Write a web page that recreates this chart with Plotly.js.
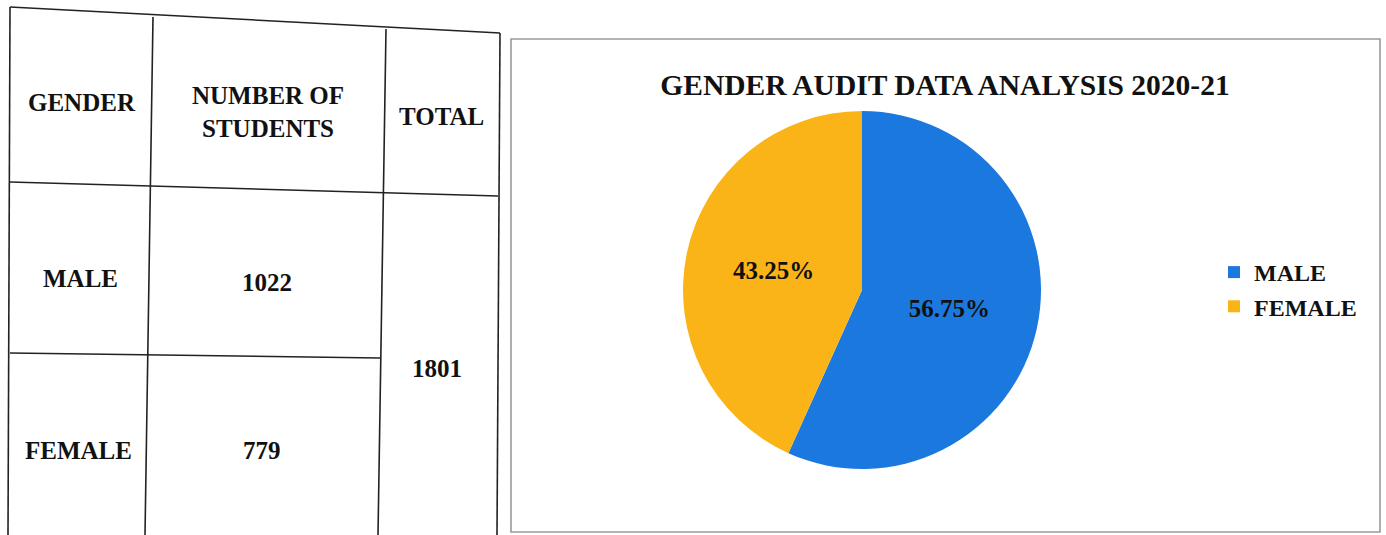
<!DOCTYPE html>
<html>
<head>
<meta charset="utf-8">
<script src="https://cdn.plot.ly/plotly-3.0.1.min.js"></script>
<style>html,body{margin:0;padding:0;background:#fff;}#chart{width:1386px;height:535px;}</style>
</head>
<body>
<div id="chart"></div>
<script>
// ---- data ----
const genders = ['MALE', 'FEMALE'];
const students = [1022, 779];
const headers = ['GENDER', 'NUMBER OF<br>STUDENTS', 'TOTAL'];
const chartTitle = 'GENDER AUDIT DATA ANALYSIS 2020-21';
const sliceColors = ['#1b78df', '#fbb417'];

const total = students.reduce((a, b) => a + b, 0);

// ---- layout helpers (pixel -> paper) ----
const W = 1386, H = 535;
const px = x => x / W;
const py = y => 1 - y / H;
const FONT = 'Liberation Serif, Times New Roman, serif';

function line(x0, y0, x1, y1, color, width) {
  return {type: 'line', xref: 'paper', yref: 'paper',
    x0: px(x0), y0: py(y0), x1: px(x1), y1: py(y1),
    line: {color: color, width: width}};
}
function label(text, x, y) {
  return {xref: 'paper', yref: 'paper', x: px(x), y: py(y), text: text,
    showarrow: false, xanchor: 'center', yanchor: 'middle', align: 'center',
    font: {family: FONT, size: 25, color: '#111', weight: 'bold'}};
}

const ink = '#222';
const shapes = [
  // table grid (scan is slightly skewed)
  line(10, 7, 500, 33, ink, 1.6),
  line(10, 182, 498, 196, ink, 1.6),
  line(10, 353, 380, 358, ink, 1.6),
  line(10, 7, 8, 535, ink, 1.6),
  line(153, 17, 145, 535, ink, 1.6),
  line(386, 29, 378, 535, ink, 1.6),
  line(500, 33, 497, 535, ink, 1.6),
  // chart frame
  {type: 'rect', xref: 'paper', yref: 'paper', x0: px(511), y0: py(532), x1: px(1380), y1: py(39),
    line: {color: '#9a9a9a', width: 1.6}, fillcolor: 'rgba(0,0,0,0)'}
];

const annotations = [
  label(headers[0], 82, 103),
  label(headers[1], 268, 112),
  label(headers[2], 441, 117),
  label(genders[0], 80, 278),
  label(String(students[0]), 267, 282),
  label(genders[1], 78, 450),
  label(String(students[1]), 262, 450),
  label(String(total), 437, 368)
];

const trace = {
  type: 'pie',
  labels: genders,
  values: students,
  sort: false,
  direction: 'clockwise',
  rotation: 0,
  marker: {colors: sliceColors, line: {width: 0}},
  texttemplate: '%{percent:.2%}',
  textposition: 'inside',
  insidetextorientation: 'horizontal',
  textfont: {family: FONT, size: 25, color: '#111', weight: 'bold'},
  hoverinfo: 'label+value+percent',
  domain: {x: [px(683), px(1041)], y: [py(471), py(109)]}
};

const layout = {
  width: W, height: H,
  margin: {l: 0, r: 0, t: 0, b: 0},
  paper_bgcolor: '#ffffff',
  plot_bgcolor: '#ffffff',
  title: {text: chartTitle, x: px(945), xanchor: 'center', y: py(85), yanchor: 'middle',
    font: {family: FONT, size: 29.5, color: '#111', weight: 'bold'}},
  showlegend: true,
  legend: {x: px(1214), xanchor: 'left', y: py(250), yanchor: 'top',
    font: {family: FONT, size: 24, color: '#111', weight: 'bold'},
    bgcolor: 'rgba(0,0,0,0)'},
  shapes: shapes,
  annotations: annotations
};

Plotly.newPlot('chart', [trace], layout, {displayModeBar: false, responsive: false});
</script>
</body>
</html>
